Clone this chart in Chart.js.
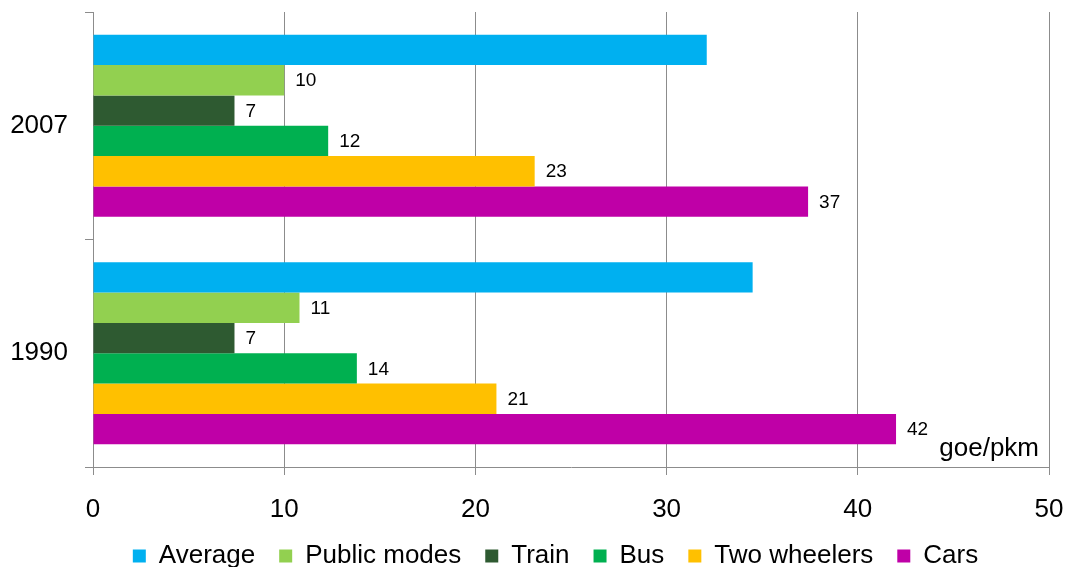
<!DOCTYPE html>
<html>
<head>
<meta charset="utf-8">
<script src="https://cdn.jsdelivr.net/npm/chart.js@4/dist/chart.umd.min.js"></script>
<style>
html,body{margin:0;padding:0;background:#fff;}
#wrap{width:1066px;height:567px;position:relative;}
</style>
</head>
<body>
<div id="wrap"><canvas id="c" width="1066" height="567"></canvas></div>
<script>
const categories = ['2007', '1990'];
const seriesNames = ['Average', 'Public modes', 'Train', 'Bus', 'Two wheelers', 'Cars'];
const average = [32.1, 34.5];
const publicModes = [10.0, 10.8];
const train = [7.4, 7.4];
const bus = [12.3, 13.8];
const twoWheelers = [23.1, 21.1];
const cars = [37.4, 42.0];
const showLabel = [false, true, true, true, true, true];
const colors = ['#00B0F0', '#92D050', '#2E5A31', '#00B050', '#FFC000', '#BF00A7'];
const xTicks = [0, 10, 20, 30, 40, 50];
const unitLabel = 'goe/pkm';

const seriesValues = [average, publicModes, train, bus, twoWheelers, cars];
const FONT = "'Liberation Sans', Arial, sans-serif";
const LEGEND_CENTER_Y = 549;
const LEGEND_SHIFT_X = 31;

const labelPlugin = {
  id: 'valueLabels',
  afterLayout(chart) {
    chart.scales.x.bottom = chart.height;
    const lg = chart.legend;
    if (lg) {
      const dy = LEGEND_CENTER_Y - (lg.top + lg.height / 2);
      lg.top += dy;
      lg.bottom += dy;
      lg.left += LEGEND_SHIFT_X;
      lg.right += LEGEND_SHIFT_X;
    }
  },
  afterDatasetsDraw(chart) {
    const ctx = chart.ctx;
    ctx.save();
    ctx.font = '19px ' + FONT;
    ctx.fillStyle = '#000';
    ctx.textBaseline = 'middle';
    ctx.textAlign = 'left';
    chart.data.datasets.forEach((ds, i) => {
      if (!showLabel[i]) return;
      const meta = chart.getDatasetMeta(i);
      meta.data.forEach((bar, j) => {
        ctx.fillText(String(Math.round(ds.data[j])), bar.x + 11, bar.y + 1);
      });
    });
    ctx.font = '26px ' + FONT;
    ctx.textAlign = 'right';
    ctx.textBaseline = 'alphabetic';
    ctx.fillText(unitLabel, chart.chartArea.right - 10, chart.chartArea.bottom - 11);
    ctx.restore();
  }
};

new Chart(document.getElementById('c'), {
  type: 'bar',
  data: {
    labels: categories,
    datasets: seriesNames.map((n, i) => ({
      label: n,
      data: seriesValues[i],
      backgroundColor: colors[i],
      borderWidth: 0,
      categoryPercentage: 0.8,
      barPercentage: 1.0
    }))
  },
  options: {
    indexAxis: 'y',
    responsive: false,
    animation: false,
    layout: { padding: { left: 0, right: 17, top: 12, bottom: 0 } },
    scales: {
      x: {
        min: 0, max: 50,
        afterBuildTicks(scale) { scale.ticks = xTicks.map(v => ({ value: v })); },
        ticks: { color: '#000', font: { family: FONT, size: 26 }, padding: 19, maxRotation: 0 },
        grid: { color: '#8c8c8c', lineWidth: 1, tickLength: 8, drawTicks: true },
        border: { color: '#8c8c8c' },
        afterFit(scale) {
          scale.height = 40;
          scale.paddingLeft = 0; scale.paddingRight = 0;
        }
      },
      y: {
        ticks: { color: '#000', font: { family: FONT, size: 26 }, padding: 17 },
        grid: { offset: true, drawOnChartArea: false, color: '#8c8c8c', tickLength: 8 },
        border: { color: '#8c8c8c' },
        afterFit(scale) {
          scale.width = 93;
          scale.paddingTop = 0; scale.paddingBottom = 0;
        }
      }
    },
    plugins: {
      legend: {
        position: 'bottom',
        labels: {
          color: '#000',
          font: { family: FONT, size: 26 },
          boxWidth: 13, boxHeight: 13,
          padding: 24
        }
      },
      tooltip: { enabled: false }
    }
  },
  plugins: [labelPlugin]
});
</script>
</body>
</html>
